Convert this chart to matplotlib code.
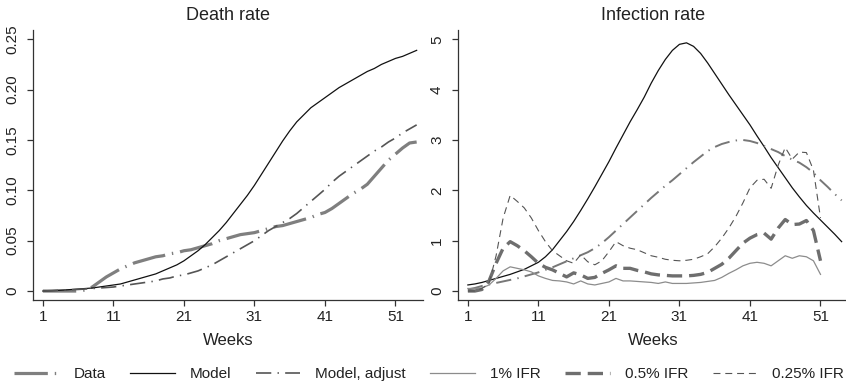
import matplotlib
matplotlib.use("Agg")
import matplotlib.pyplot as plt
from matplotlib.lines import Line2D

plt.rcParams['font.family'] = ['Liberation Sans', 'DejaVu Sans']
plt.rcParams['lines.scale_dashes'] = False

# ---------------- data ----------------
weeks = list(range(1, 55))
weeks_ifr = list(range(1, 52))

death_data = [0, 0, 0, 0, 0, 0, 0.001, 0.004, 0.009, 0.014,
              0.018, 0.022, 0.025, 0.028, 0.030, 0.032, 0.034, 0.035, 0.037, 0.038,
              0.040, 0.041, 0.043, 0.045, 0.047, 0.050, 0.052, 0.054, 0.056, 0.057,
              0.058, 0.060, 0.062, 0.064, 0.065, 0.067, 0.069, 0.071, 0.073, 0.076,
              0.078, 0.082, 0.087, 0.092, 0.097, 0.101, 0.106, 0.114, 0.122, 0.130,
              0.136, 0.142, 0.147, 0.148]
death_model = [0.0, 0.0003, 0.0006, 0.001, 0.0015, 0.002, 0.0025, 0.003, 0.004, 0.005,
               0.006, 0.007, 0.009, 0.011, 0.013, 0.015, 0.017, 0.020, 0.023, 0.026,
               0.030, 0.035, 0.040, 0.046, 0.053, 0.060, 0.068, 0.077, 0.086, 0.095,
               0.105, 0.116, 0.127, 0.138, 0.149, 0.159, 0.168, 0.175, 0.182, 0.187,
               0.192, 0.197, 0.202, 0.206, 0.210, 0.214, 0.218, 0.221, 0.225, 0.228,
               0.231, 0.233, 0.236, 0.239]
death_adjust = [0.0, 0.0003, 0.0006, 0.001, 0.0013, 0.0016, 0.002, 0.0025, 0.003, 0.0035,
                0.004, 0.005, 0.006, 0.007, 0.008, 0.009, 0.010, 0.012, 0.013, 0.015,
                0.016, 0.018, 0.020, 0.023, 0.026, 0.030, 0.034, 0.038, 0.042, 0.046,
                0.050, 0.055, 0.060, 0.064, 0.068, 0.072, 0.077, 0.083, 0.089, 0.095,
                0.101, 0.108, 0.114, 0.119, 0.124, 0.129, 0.134, 0.139, 0.143, 0.148,
                0.152, 0.157, 0.161, 0.165]

inf_model = [0.12, 0.14, 0.17, 0.21, 0.25, 0.29, 0.33, 0.38, 0.43, 0.50,
             0.57, 0.68, 0.82, 1.00, 1.18, 1.38, 1.60, 1.83, 2.07, 2.32,
             2.57, 2.84, 3.10, 3.36, 3.60, 3.85, 4.13, 4.38, 4.60, 4.78,
             4.90, 4.93, 4.86, 4.72, 4.53, 4.32, 4.11, 3.90, 3.70, 3.50,
             3.30, 3.08, 2.87, 2.65, 2.45, 2.25, 2.05, 1.87, 1.70, 1.55,
             1.41, 1.27, 1.13, 0.98]
inf_adjust = [0.03, 0.06, 0.10, 0.13, 0.16, 0.19, 0.22, 0.25, 0.29, 0.33,
              0.37, 0.42, 0.47, 0.53, 0.59, 0.65, 0.71, 0.77, 0.85, 0.95,
              1.07, 1.20, 1.33, 1.46, 1.59, 1.72, 1.85, 1.97, 2.09, 2.20,
              2.32, 2.44, 2.56, 2.67, 2.78, 2.86, 2.92, 2.96, 2.99, 3.00,
              2.98, 2.94, 2.88, 2.82, 2.76, 2.68, 2.61, 2.55, 2.46, 2.35,
              2.20, 2.07, 1.93, 1.80]
ifr_1 = [0.05, 0.05, 0.06, 0.12, 0.25, 0.40, 0.48, 0.45, 0.42, 0.38,
         0.30, 0.25, 0.21, 0.20, 0.18, 0.14, 0.20, 0.14, 0.12, 0.15,
         0.18, 0.25, 0.20, 0.20, 0.19, 0.18, 0.17, 0.15, 0.18, 0.15,
         0.15, 0.15, 0.16, 0.17, 0.19, 0.21, 0.27, 0.35, 0.42, 0.50,
         0.55, 0.57, 0.55, 0.50, 0.60, 0.70, 0.65, 0.70, 0.68, 0.60,
         0.33]
ifr_05 = [0.0, 0.0, 0.03, 0.20, 0.55, 0.85, 0.98, 0.90, 0.80, 0.68,
          0.55, 0.47, 0.42, 0.35, 0.28, 0.36, 0.32, 0.25, 0.27, 0.35,
          0.42, 0.50, 0.45, 0.45, 0.41, 0.38, 0.34, 0.32, 0.31, 0.30,
          0.30, 0.30, 0.31, 0.33, 0.37, 0.45, 0.53, 0.65, 0.80, 0.95,
          1.05, 1.12, 1.15, 1.03, 1.25, 1.42, 1.32, 1.33, 1.40, 1.20,
          0.60]
ifr_025 = [0.0, 0.0, 0.05, 0.15, 0.70, 1.45, 1.90, 1.78, 1.65, 1.45,
           1.20, 0.98, 0.80, 0.70, 0.60, 0.55, 0.72, 0.58, 0.52, 0.60,
           0.78, 0.98, 0.90, 0.85, 0.82, 0.76, 0.70, 0.67, 0.63, 0.61,
           0.60, 0.61, 0.63, 0.68, 0.74, 0.88, 1.05, 1.25, 1.48, 1.75,
           2.05, 2.20, 2.22, 2.04, 2.50, 2.85, 2.62, 2.76, 2.75, 2.40,
           1.45]

xticks = [1, 11, 21, 31, 41, 51]
death_yticks = [0, 0.05, 0.10, 0.15, 0.20, 0.25]
death_yticklabels = ['0', '0.05', '0.10', '0.15', '0.20', '0.25']
inf_yticks = [0, 1, 2, 3, 4, 5]
inf_yticklabels = ['0', '1', '2', '3', '4', '5']

# ---------------- styles ----------------
st_data = dict(color='#7f7f7f', lw=2.3, dashes=(24, 5, 1, 5), label='Data')
st_model = dict(color='#111111', lw=0.9, label='Model')
st_adj_l = dict(color='#555555', lw=1.2, dashes=(11, 4.5, 1, 4.5), label='Model, adjust')
st_adj_r = dict(color='#777777', lw=1.4, dashes=(11, 4.5, 1, 4.5))
st_ifr1 = dict(color='#8c8c8c', lw=0.9, label='1% IFR')
st_ifr05 = dict(color='#6e6e6e', lw=2.4, dashes=(11, 5), label='0.5% IFR')
st_ifr025 = dict(color='#555555', lw=0.8, dashes=(5, 3.5), label='0.25% IFR')

W, H = 846, 384
fig = plt.figure(figsize=(W / 100, H / 100), dpi=100)
ax1 = fig.add_axes([33 / W, 1 - 300 / H, 390 / W, 270 / H])
ax2 = fig.add_axes([458 / W, 1 - 300 / H, 390 / W, 270 / H])

txt = '#222222'
for ax in (ax1, ax2):
    for s in ('top', 'right'):
        ax.spines[s].set_visible(False)
    for s in ('left', 'bottom'):
        ax.spines[s].set_color('#333333')
        ax.spines[s].set_linewidth(0.9)
    ax.tick_params(direction='out', length=4, width=0.9, color='#333333',
                   labelsize=11, labelcolor=txt)
    ax.tick_params(axis='x', pad=3)
    ax.tick_params(axis='y', pad=6)
    ax.set_xticks(xticks)
    ax.set_xticklabels([str(t) for t in xticks])
    ax.set_xlim(-0.4, 54.9)
    ax.set_xlabel('Weeks', fontsize=12, color=txt, labelpad=7)

ax1.plot(weeks, death_data, **st_data)
ax1.plot(weeks, death_model, **st_model)
ax1.plot(weeks, death_adjust, **st_adj_l)
ax1.set_ylim(-0.0089, 0.2592)
ax1.set_yticks(death_yticks)
ax1.set_yticklabels(death_yticklabels, rotation=90, va='center')
ax1.set_title('Death rate', fontsize=13, color=txt, pad=7)

ax2.plot(weeks, inf_model, **st_model)
ax2.plot(weeks, inf_adjust, **st_adj_r)
ax2.plot(weeks_ifr, ifr_1, **st_ifr1)
ax2.plot(weeks_ifr, ifr_05, **st_ifr05)
ax2.plot(weeks_ifr, ifr_025, **st_ifr025)
ax2.set_ylim(-0.179, 5.185)
ax2.set_yticks(inf_yticks)
ax2.set_yticklabels(inf_yticklabels, rotation=90, va='center')
ax2.set_title('Infection rate', fontsize=13, color=txt, pad=7)

handles = [Line2D([], [], **st_data), Line2D([], [], **st_model),
           Line2D([], [], **st_adj_l), Line2D([], [], **st_ifr1),
           Line2D([], [], **st_ifr05), Line2D([], [], **st_ifr025)]
leg = fig.legend(handles=handles, loc='center left', bbox_to_anchor=(14 / W, 1 - 374 / H),
                 ncol=6, frameon=False, fontsize=11, handlelength=2.9,
                 handletextpad=1.0, columnspacing=1.6, borderpad=0, borderaxespad=0)
for t in leg.get_texts():
    t.set_color(txt)

fig.savefig('out.png', dpi=100)
